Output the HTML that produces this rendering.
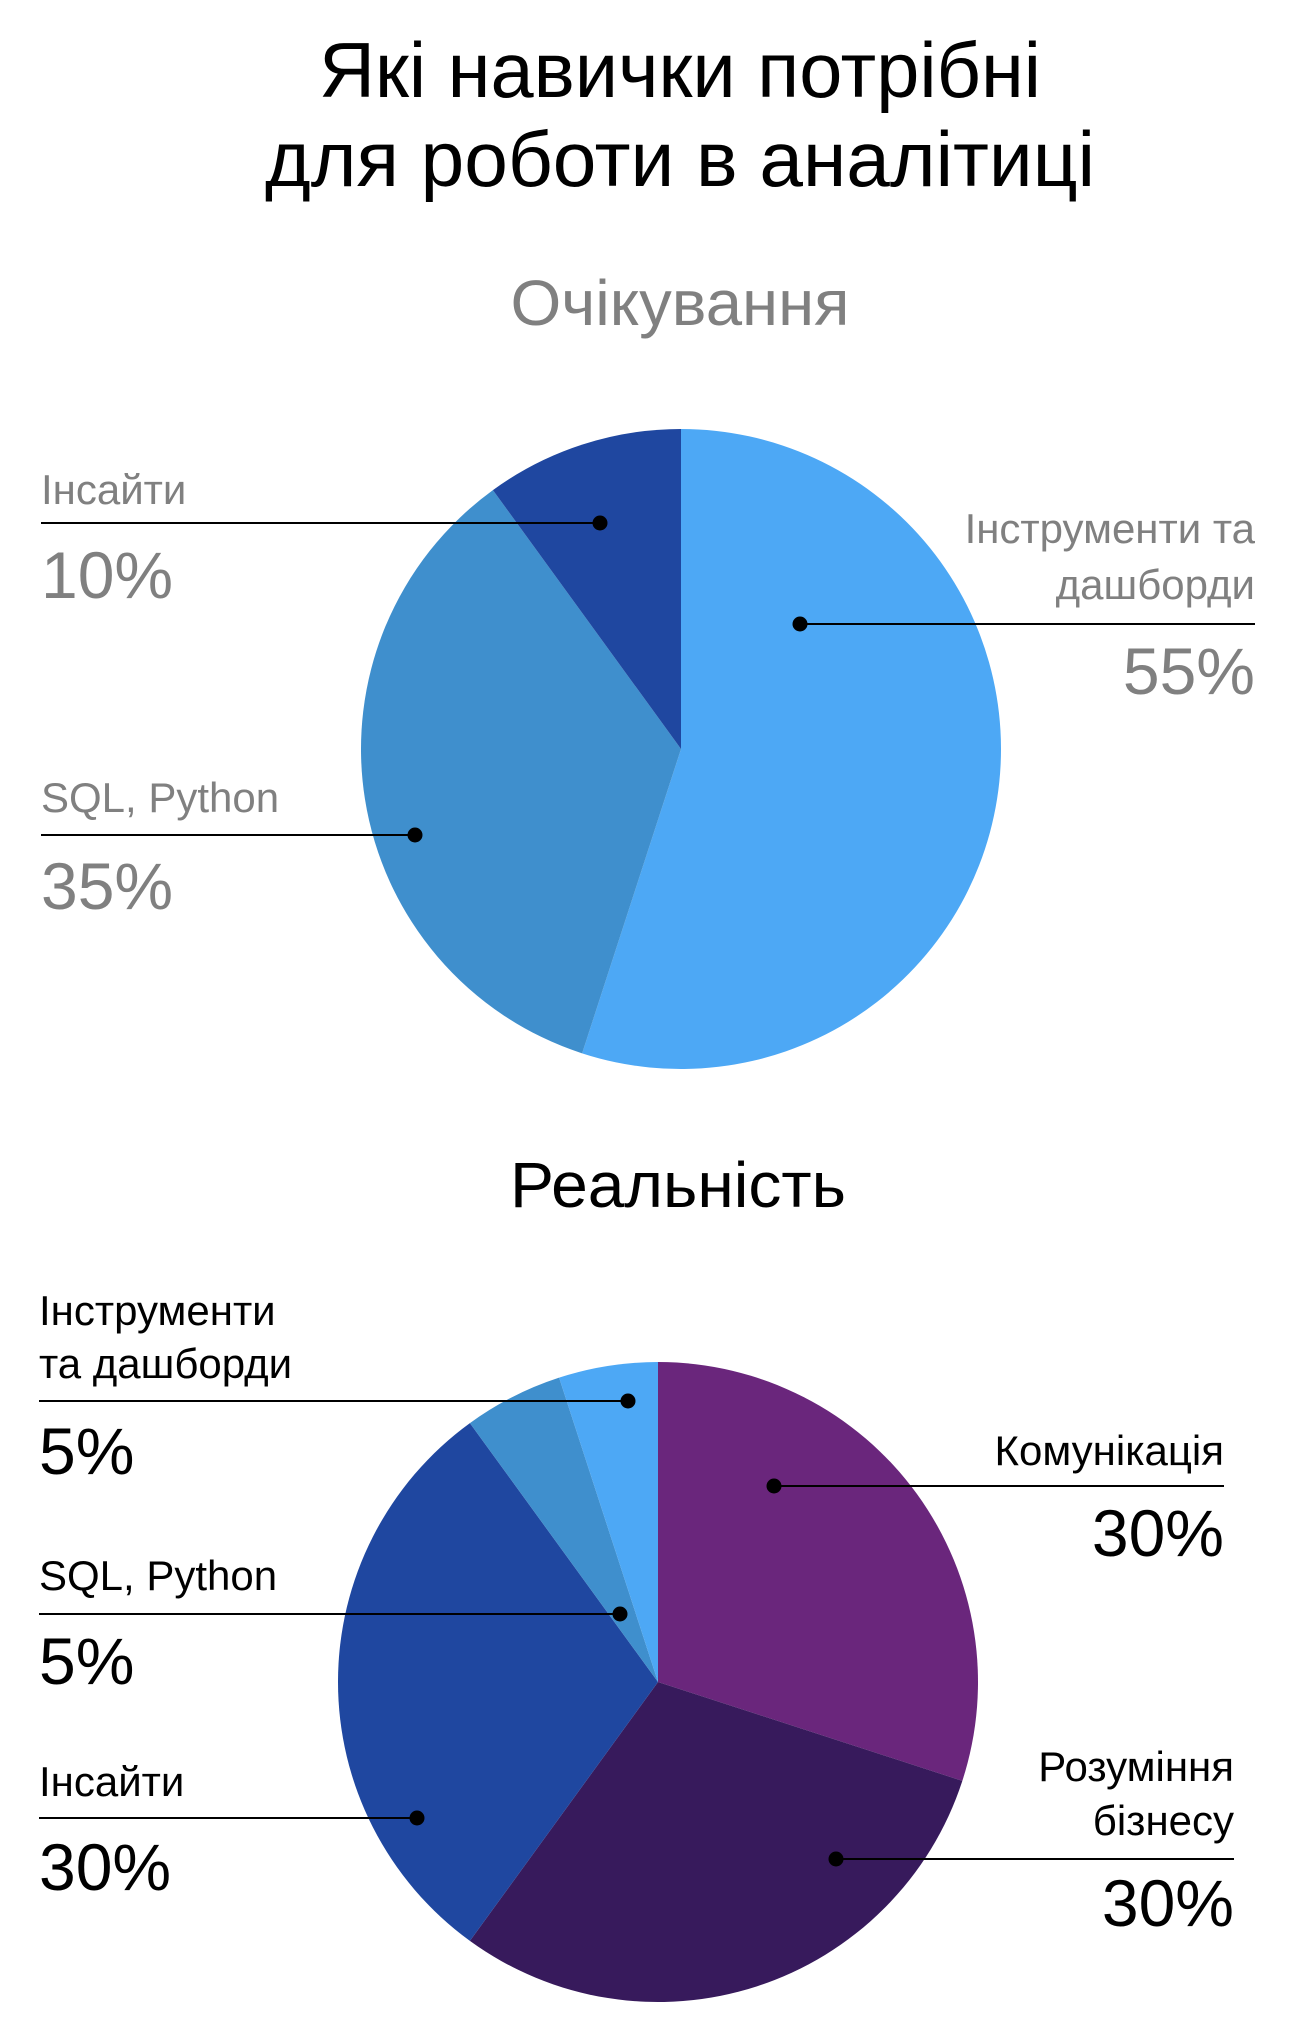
<!DOCTYPE html>
<html><head><meta charset="utf-8"><style>
html,body{margin:0;padding:0;background:#fff;}
svg{display:block;font-family:"Liberation Sans","Noto Sans CJK SC",sans-serif;}
</style></head><body>
<svg id="chart" width="1290" height="2032" viewBox="0 0 1290 2032">
<text x="680" y="97" text-anchor="middle" font-size="78" textLength="722" lengthAdjust="spacingAndGlyphs" fill="#000">Які навички потрібні</text>
<text x="680" y="186" text-anchor="middle" font-size="78" textLength="830" lengthAdjust="spacingAndGlyphs" fill="#000">для роботи в аналітиці</text>
<text x="680" y="325" text-anchor="middle" font-size="64" textLength="339" lengthAdjust="spacingAndGlyphs" fill="#808080">Очікування</text>
<text x="678" y="1207" text-anchor="middle" font-size="64" textLength="336" lengthAdjust="spacingAndGlyphs" fill="#000">Реальність</text>
<g id="pie1"></g>
<g id="pie2"></g>
<g id="ann"></g>
</svg>
<script>
const expCategories = ["Інструменти та дашборди", "SQL, Python", "Інсайти"];
const expValues = [55, 35, 10];
const expColors = ["#4DA8F5", "#3F8FCD", "#1F47A0"];
const realCategories = ["Комунікація", "Розуміння бізнесу", "Інсайти", "SQL, Python", "Інструменти та дашборди"];
const realValues = [30, 30, 30, 5, 5];
const realColors = ["#6A267C", "#371A5C", "#1F47A0", "#3F8FCD", "#4DA8F5"];

const NS = "http://www.w3.org/2000/svg";
function drawPie(g, cats, vals, colors, cx, cy, r, prefix) {
  const total = vals.reduce((a, b) => a + b, 0);
  let a0 = 0;
  vals.forEach((v, i) => {
    const a1 = a0 + v / total * 2 * Math.PI;
    const x0 = cx + r * Math.sin(a0), y0 = cy - r * Math.cos(a0);
    const x1 = cx + r * Math.sin(a1), y1 = cy - r * Math.cos(a1);
    const large = (a1 - a0) > Math.PI ? 1 : 0;
    const p = document.createElementNS(NS, "path");
    p.setAttribute("d", `M${cx},${cy} L${x0},${y0} A${r},${r} 0 ${large} 1 ${x1},${y1} Z`);
    p.setAttribute("fill", colors[i]);
    
    
    g.appendChild(p);
    a0 = a1;
  });
}
drawPie(document.getElementById("pie1"), expCategories, expValues, expColors, 681, 749, 320, "expectation");
drawPie(document.getElementById("pie2"), realCategories, realValues, realColors, 658, 1682, 320, "reality");

const ann = document.getElementById("ann");
function txt(x, y, s, size, color, anchor, name) {
  const t = document.createElementNS(NS, "text");
  t.setAttribute("x", x); t.setAttribute("y", y);
  t.setAttribute("font-size", size); t.setAttribute("fill", color);
  t.setAttribute("text-anchor", anchor);
  t.textContent = s;
  
  
  ann.appendChild(t);
}
function leader(x1, x2, y, dx, name) {
  const l = document.createElementNS(NS, "line");
  l.setAttribute("x1", x1); l.setAttribute("x2", x2);
  l.setAttribute("y1", y); l.setAttribute("y2", y);
  l.setAttribute("stroke", "#000"); l.setAttribute("stroke-width", "2");
  
  
  ann.appendChild(l);
  const c = document.createElementNS(NS, "circle");
  c.setAttribute("cx", dx); c.setAttribute("cy", y); c.setAttribute("r", "7.5");
  
  
  ann.appendChild(c);
}
const G = "#808080", K = "#000", LS = 42, PS = 66;
// expectation
txt(41, 504, "Інсайти", LS, G, "start", "exp-insights-label");
leader(41, 600, 523, 600, "exp-insights");
txt(41, 598, expValues[2] + "%", PS, G, "start", "exp-insights-value");
txt(41, 812, "SQL, Python", LS, G, "start", "exp-sql-label");
leader(41, 415, 835, 415, "exp-sql");
txt(41, 909, expValues[1] + "%", PS, G, "start", "exp-sql-value");
txt(1255, 543, "Інструменти та", LS, G, "end", "exp-tools-label-1");
txt(1255, 599, "дашборди", LS, G, "end", "exp-tools-label-2");
leader(800, 1255, 624, 800, "exp-tools");
txt(1255, 694, expValues[0] + "%", PS, G, "end", "exp-tools-value");
// reality
txt(39, 1325, "Інструменти", LS, K, "start", "real-tools-label-1");
txt(39, 1378, "та дашборди", LS, K, "start", "real-tools-label-2");
leader(39, 628, 1401, 628, "real-tools");
txt(39, 1474, realValues[4] + "%", PS, K, "start", "real-tools-value");
txt(39, 1590, "SQL, Python", LS, K, "start", "real-sql-label");
leader(39, 620, 1614, 620, "real-sql");
txt(39, 1684, realValues[3] + "%", PS, K, "start", "real-sql-value");
txt(39, 1796, "Інсайти", LS, K, "start", "real-insights-label");
leader(39, 417, 1818, 417, "real-insights");
txt(39, 1890, realValues[2] + "%", PS, K, "start", "real-insights-value");
txt(1224, 1465, "Комунікація", LS, K, "end", "real-comm-label");
leader(774, 1224, 1486, 774, "real-comm");
txt(1224, 1556, realValues[0] + "%", PS, K, "end", "real-comm-value");
txt(1234, 1781, "Розуміння", LS, K, "end", "real-biz-label-1");
txt(1234, 1835, "бізнесу", LS, K, "end", "real-biz-label-2");
leader(836, 1234, 1859, 836, "real-biz");
txt(1234, 1926, realValues[1] + "%", PS, K, "end", "real-biz-value");
</script>
</body></html>
